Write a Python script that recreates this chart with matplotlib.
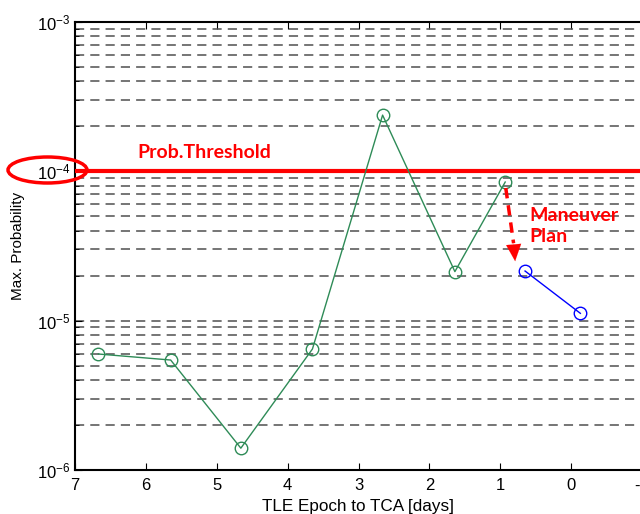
import numpy as np
import matplotlib
matplotlib.use('Agg')
import matplotlib.pyplot as plt
from matplotlib.patches import Ellipse

plt.rcParams['font.family'] = ['Liberation Sans', 'DejaVu Sans']
plt.rcParams['mathtext.fontset'] = 'custom'
plt.rcParams['mathtext.rm'] = 'Liberation Sans'
plt.rcParams['mathtext.it'] = 'Liberation Sans'

# TLE epochs before TCA and max probability per conjunction assessment
days = [6.67, 5.65, 4.66, 3.65, 2.66, 1.64, 0.93]
prob = [5.98e-6, 5.45e-6, 1.40e-6, 6.46e-6, 2.38e-4, 2.13e-5, 8.48e-5]

# after the maneuver
days_man = [0.65, -0.13]
prob_man = [2.15e-5, 1.12e-5]

threshold = 1e-4
xticks = [7, 6, 5, 4, 3, 2, 1, 0, -1]

fig = plt.figure(figsize=(6.4, 5.14), dpi=100)
ax = fig.add_axes([75 / 640, 44 / 514, 567 / 640, 448 / 514])

ax.set_yscale('log')
ax.set_ylim(1e-6, 1e-3)
ax.set_xlim(7, -1)
ax.set_xticks(xticks)
ax.set_xticklabels([str(t) for t in xticks])

# dashed horizontal grid at every decade and sub-decade
ax.yaxis.grid(True, which='both', color='#505050', linestyle=(0, (6, 4)), linewidth=1.1)
ax.xaxis.grid(False)
ax.set_axisbelow(True)

ax.axhline(threshold, color='#ff0000', linewidth=3, zorder=3)

ax.plot(days, prob, '-o', color='#2e8b57', linewidth=1, markersize=9,
        markerfacecolor='none', markeredgewidth=1, zorder=4)
ax.plot(days_man, prob_man, '-o', color='#0000ff', linewidth=1, markersize=9,
        markerfacecolor='none', markeredgewidth=1, zorder=4)

# maneuver arrow: dashed shaft plus filled head
ax.plot([0.922, 0.812], [7.73e-5, 3.3e-5], color='#ff0000', linestyle=(0, (3, 2)),
        linewidth=2.5, zorder=5)
ax.annotate('', xy=(0.79, 2.5e-5), xytext=(0.815, 3.4e-5),
            arrowprops=dict(arrowstyle='-|>,head_width=0.45,head_length=1.0',
                            mutation_scale=12, color='#ff0000', lw=0.1,
                            shrinkA=0, shrinkB=0), zorder=5)

ax.text(6.125, 1.327e-4, 'Prob.Threshold', color='#ff0000', fontsize=14,
        fontweight='bold', family=['Lato', 'DejaVu Sans'], va='center', ha='left')
ax.text(0.593, 4.3e-5, 'Maneuver\nPlan', color='#ff0000', fontsize=14,
        fontweight='bold', family=['Lato', 'DejaVu Sans'], va='center', ha='left',
        linespacing=1.3)

# circle around the threshold tick label
ell = Ellipse((47.5 / 640, 1 - 170 / 514), 79 / 640, 26 / 514, transform=fig.transFigure,
              fill=False, edgecolor='#ff0000', linewidth=2.5, clip_on=False)
fig.patches.append(ell)

ax.tick_params(axis='both', which='both', direction='in', top=True, right=False,
               labelsize=12, length=5)
ax.tick_params(axis='y', which='minor', length=3)
ax.tick_params(axis='x', pad=6)
for s in ['left', 'bottom', 'top']:
    ax.spines[s].set_linewidth(1.5)

ax.set_xlabel('TLE Epoch to TCA [days]', fontsize=12.3, labelpad=4)
ax.set_ylabel('Max. Probability', fontsize=11, labelpad=8)

fig.savefig('out.png', dpi=100)
